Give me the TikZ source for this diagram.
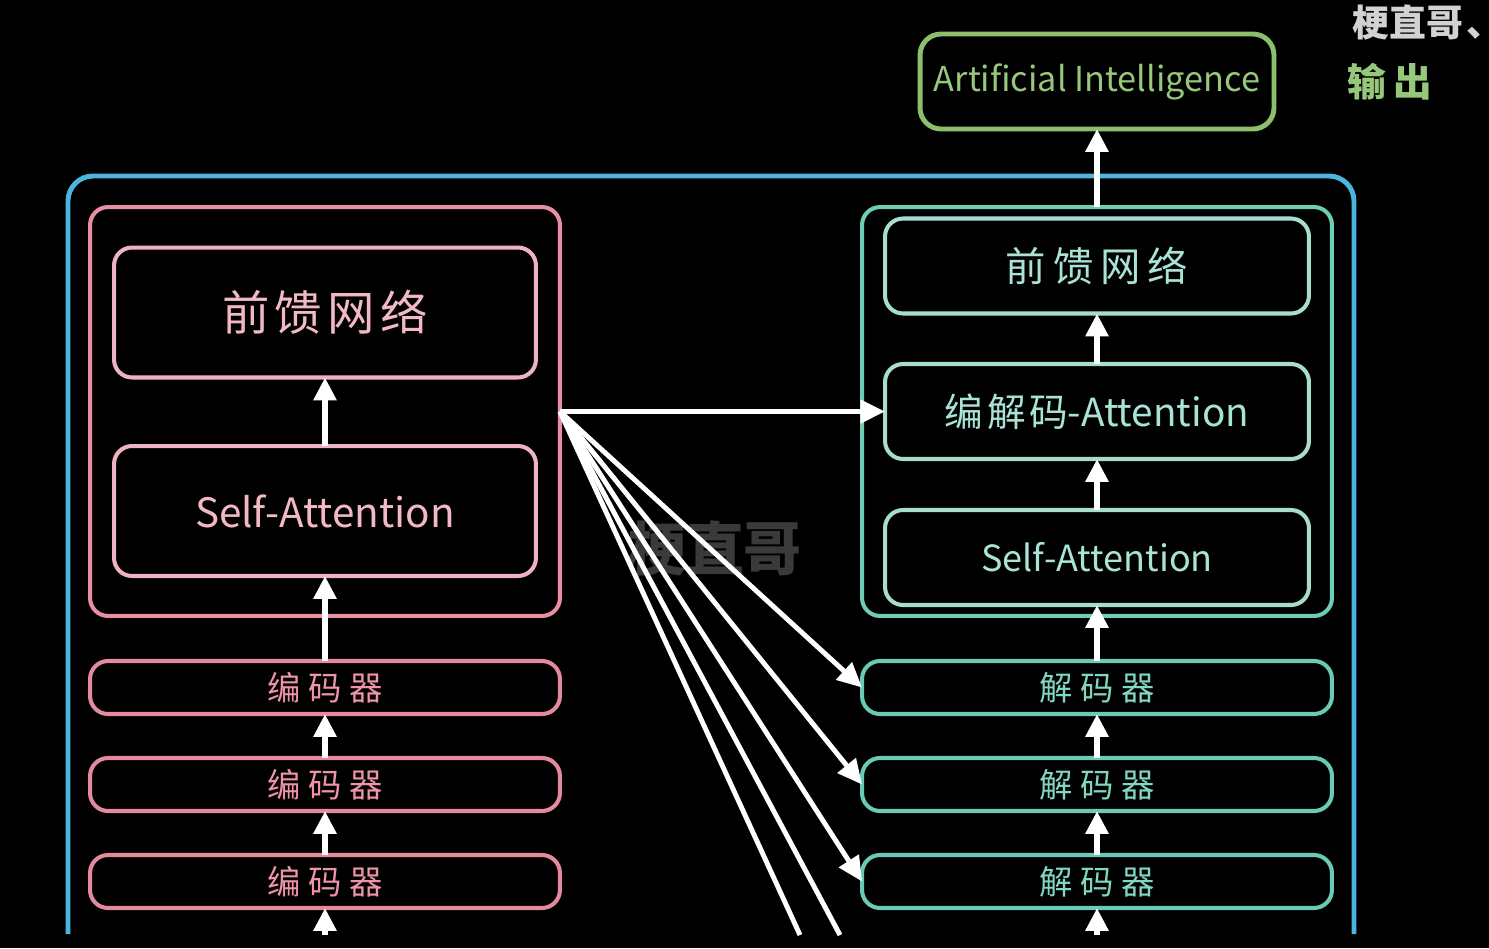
\documentclass[tikz,border=0pt]{standalone}
\usepackage{fontspec}
\setmainfont{Noto Sans CJK SC}
\usetikzlibrary{arrows.meta}
\definecolor{bluec}{HTML}{4BB6DD}
\definecolor{pinko}{HTML}{E88FA3}
\definecolor{pinki}{HTML}{EDB3C0}
\definecolor{pinkt}{HTML}{F2B9C5}
\definecolor{pinks}{HTML}{E5899E}
\definecolor{pinkst}{HTML}{EE93A8}
\definecolor{tealo}{HTML}{6DCDB5}
\definecolor{teali}{HTML}{A6DDD0}
\definecolor{tealt}{HTML}{A8E3D5}
\definecolor{teals}{HTML}{6ACBB4}
\definecolor{tealst}{HTML}{80D7C2}
\definecolor{greeno}{HTML}{8DBE6B}
\definecolor{greent}{HTML}{97C77A}
\definecolor{grayt}{HTML}{D2D2D2}
\definecolor{wmark}{HTML}{3A3A3A}
\newcommand{\fs}[1]{\fontsize{#1}{#1}\selectfont}
\begin{document}
\begin{tikzpicture}[x=0.02cm,y=-0.02cm,
  box/.style={draw, rectangle, rounded corners=0.36cm, inner sep=0pt, outer sep=0pt, line width=2.3pt},
  bigbox/.style={box, minimum width=9.4cm, minimum height=8.18cm},
  smallbox/.style={box, minimum width=9.4cm, minimum height=1.06cm},
  encinner/.style={box, draw=pinki, text=pinkt, minimum width=8.44cm, minimum height=2.6cm},
  decinner/.style={box, draw=teali, text=tealt, minimum width=8.48cm, minimum height=1.9cm},
  arr/.style={draw=white, line width=3.3pt, -{Triangle[width=12.5pt,length=13pt]}},
  fan/.style={draw=white, line width=2.8pt, -{Triangle[width=13pt,length=14pt]}},
]
\useasboundingbox (0,0) rectangle (1489,948);
\fill[black] (0,0) rectangle (1489,948);

% outer blue frame (open at the bottom)
\draw[bluec, line width=2.8pt, rounded corners=0.5cm] (68,934) -- (68,176) -- (1354,176) -- (1354,934);

% watermark
\node[text=wmark, font=\bfseries\fs{33}] (wm) at (715,548) {梗直哥};

% encoder side
\node[bigbox, draw=pinko] (encbig) at (325,411.5) {};
\node[encinner, font=\fs{27}] (encffn) at (325,312.5) {前\hspace{3pt}馈\hspace{3pt}网\hspace{3pt}络};
\node[encinner, font=\fs{23}] (encsa) at (325,511) {Self-Attention};
\node[smallbox, draw=pinks, text=pinkst, font=\fs{19}] (enc1) at (325,687.5) {编\hspace{4.5pt}码\hspace{4.5pt}器};
\node[smallbox, draw=pinks, text=pinkst, font=\fs{19}] (enc2) at (325,784.5) {编\hspace{4.5pt}码\hspace{4.5pt}器};
\node[smallbox, draw=pinks, text=pinkst, font=\fs{19}] (enc3) at (325,881.5) {编\hspace{4.5pt}码\hspace{4.5pt}器};

% decoder side
\node[bigbox, draw=tealo] (decbig) at (1097,411.5) {};
\node[decinner, font=\fs{23}] (decffn) at (1097,266) {前\hspace{4pt}馈\hspace{4pt}网\hspace{4pt}络};
\node[decinner, font=\fs{22}] (decca) at (1097,411.5) {编\hspace{2pt}解\hspace{2pt}码-Attention};
\node[decinner, font=\fs{20.5}] (decsa) at (1097,557.5) {Self-Attention};
\node[smallbox, draw=teals, text=tealst, font=\fs{19}] (dec1) at (1097,687.5) {解\hspace{4.5pt}码\hspace{4.5pt}器};
\node[smallbox, draw=teals, text=tealst, font=\fs{19}] (dec2) at (1097,784.5) {解\hspace{4.5pt}码\hspace{4.5pt}器};
\node[smallbox, draw=teals, text=tealst, font=\fs{19}] (dec3) at (1097,881.5) {解\hspace{4.5pt}码\hspace{4.5pt}器};

% output
\node[box, draw=greeno, text=greent, line width=2.8pt, rounded corners=0.42cm, minimum width=7.08cm, minimum height=1.9cm, font=\fs{19.5}] (out) at (1097,81.5) {Artificial Intelligence};
\node[text=greent, font=\bfseries\fs{22}] (outlbl) at (1390,82) {输\hspace{4pt}出};
\node[text=grayt, font=\bfseries\fs{21}, anchor=west, inner sep=0pt] (brand) at (1352,22) {梗直哥\hspace{2pt}、};

% free ends
\coordinate (encin) at (325,935);
\coordinate (decin) at (1097,935);
\coordinate (f1) at (800,935);
\coordinate (f2) at (840,935);

% encoder arrows
\draw[arr] (encin) -- (enc3.south);
\draw[arr] (enc3.north) -- (enc2.south);
\draw[arr] (enc2.north) -- (enc1.south);
\draw[arr] (enc1.north) -- (encsa.south);
\draw[arr] (encsa.north) -- (encffn.south);

% decoder arrows
\draw[arr] (decin) -- (dec3.south);
\draw[arr] (dec3.north) -- (dec2.south);
\draw[arr] (dec2.north) -- (dec1.south);
\draw[arr] (dec1.north) -- (decsa.south);
\draw[arr] (decsa.north) -- (decca.south);
\draw[arr] (decca.north) -- (decffn.south);
\draw[arr] (decbig.north) -- (out.south);

% fan from encoder to decoders
\draw[fan] (encbig.east) -- (decca.west);
\draw[fan] (encbig.east) -- (dec1.west);
\draw[fan] (encbig.east) -- (dec2.west);
\draw[fan] (encbig.east) -- (dec3.west);
\draw[fan, -] (encbig.east) -- (f1);
\draw[fan, -] (encbig.east) -- (f2);
\end{tikzpicture}
\end{document}
